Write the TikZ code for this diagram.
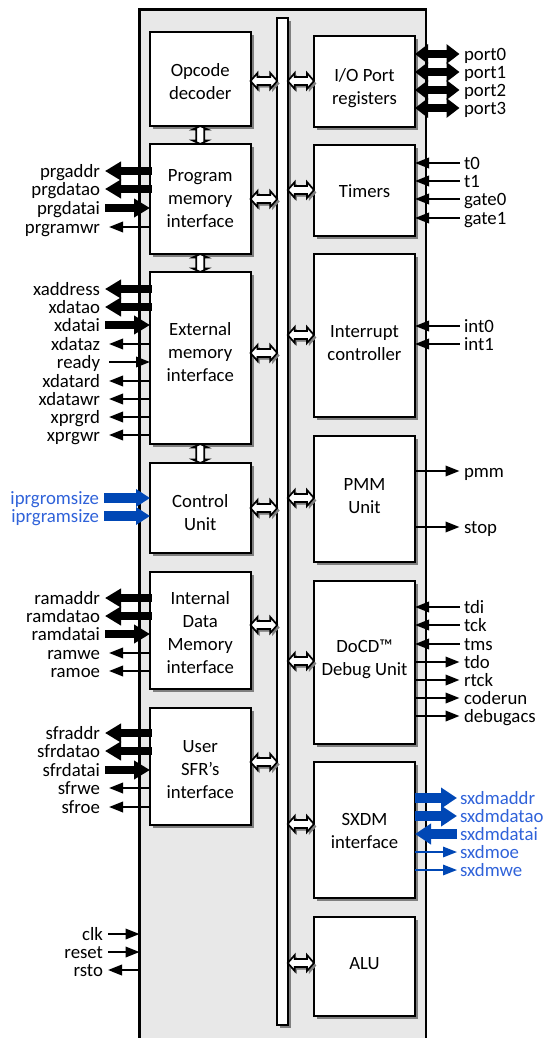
\documentclass[tikz,border=0pt]{standalone}
\usepackage{fontspec}
\setmainfont{Carlito}
\usetikzlibrary{arrows.meta,calc,shadows,positioning}
\definecolor{panelgray}{HTML}{E8E8E8}
\definecolor{shgray}{HTML}{7F7F7F}
\definecolor{bluear}{HTML}{0047B5}
\definecolor{bluetx}{HTML}{2F62D9}
\tikzset{
  shad/.style={general shadow={shadow xshift=3pt,shadow yshift=-3pt,fill=shgray,draw=none}},
  blk/.style={draw=black,line width=2pt,fill=white,inner sep=0pt,outer sep=0pt,shad},
  blktext/.style={inner sep=0pt,outer sep=0pt,align=center,font=\fontsize{18.7}{23}\selectfont},
  lblL/.style={anchor=east,inner xsep=5pt,inner ysep=0pt,outer sep=0pt,text height=16.5pt,text depth=4pt,font=\fontsize{18.8}{18}\selectfont},
  lblR/.style={anchor=west,inner xsep=4.5pt,inner ysep=0pt,outer sep=0pt,text height=16.5pt,text depth=4pt,font=\fontsize{18.8}{18}\selectfont},
  wide/.style={line width=8pt,-{Triangle[length=16pt,width=18pt]}},
  wideblue/.style={bluear,line width=10pt,-{Triangle[length=16pt,width=20pt]}},
  wided/.style={line width=8pt,{Triangle[length=13pt,width=19pt]}-{Triangle[length=13pt,width=19pt]}},
  thin arrow/.style={line width=2pt,-{Triangle[length=14pt,width=10.5pt]}},
  busar/.style={draw=black,line width=1.7pt,fill=white,line join=miter,
    general shadow={shadow xshift=2pt,shadow yshift=-2.5pt,fill=shgray,draw=shgray}},
  vbusar/.style={draw=black,line width=1.7pt,fill=white,line join=miter},
}
% #1 name, #2-#5 corners, #6 text offset, #7 text
\newcommand{\blkbox}[7]{%
  \pgfmathsetmacro{\cx}{(#2+#4)/2}\pgfmathsetmacro{\cy}{(#3+#5)/2}%
  \pgfmathsetmacro{\ww}{#4-#2}\pgfmathsetmacro{\hh}{#5-#3}%
  \pgfmathsetmacro{\ty}{\cy+#6}%
  \node[blk,minimum width=\ww pt,minimum height=\hh pt] (#1) at (\cx,\cy) {};
  \node[blktext] (#1text) at (\cx,\ty) {#7};}
\newcommand{\hbus}[3]{%
  \draw[busar] let \p1=(#1.east |- 0,#3), \p2=(#2.west |- 0,#3) in
    (\x1,\y1) -- (\x1+7pt,\y1+8pt) -- (\x1+7pt,\y1+4pt) -- (\x2-7pt,\y1+4pt) -- (\x2-7pt,\y1+8pt)
    -- (\x2,\y1) -- (\x2-7pt,\y1-8pt) -- (\x2-7pt,\y1-4pt) -- (\x1+7pt,\y1-4pt) -- (\x1+7pt,\y1-8pt) -- cycle;}
\newcommand{\vbus}[2]{%
  \draw[vbusar] let \p1=(#1.south), \p2=(#2.north) in
    (\x1,\y1) -- (\x1+7.5pt,\y1-3.5pt) -- (\x1+4pt,\y1-3.5pt) -- (\x1+4pt,\y2+3.5pt) -- (\x1+7.5pt,\y2+3.5pt)
    -- (\x1,\y2) -- (\x1-7.5pt,\y2+3.5pt) -- (\x1-4pt,\y2+3.5pt) -- (\x1-4pt,\y1-3.5pt) -- (\x1-7.5pt,\y1-3.5pt) -- cycle;}
\newcommand{\sigL}[2]{%
  \foreach \n/\yy/\k in {#2}{%
    \node[lblL] (s\n) at (105,\yy) {\n};
    \ifnum\k=0 \draw[wide,shorten <=-1.5pt] (#1.west |- s\n) -- (s\n.east);\fi
    \ifnum\k=1 \draw[wide] (s\n.east) -- (#1.west |- s\n);\fi
    \ifnum\k=2 \draw[thin arrow,shorten >=4pt] (#1.west |- s\n) -- (s\n.east);\fi
    \ifnum\k=3 \draw[thin arrow,shorten <=4pt] (s\n.east) -- (#1.west |- s\n);\fi
  }}
\newcommand{\sigR}[2]{%
  \foreach \n/\yy/\k in {#2}{%
    \node[lblR] (s\n) at (459.5,\yy) {\n};
    \ifnum\k=0 \draw[thin arrow] (#1.east |- s\n) -- (s\n.west);\fi
    \ifnum\k=1 \draw[thin arrow] (s\n.west) -- (#1.east |- s\n);\fi
  }}
\begin{document}
\begin{tikzpicture}[x=1pt,y=-1pt]
\useasboundingbox (0,0) rectangle (542,1038);
\clip (0,0) rectangle (542,1038);
\draw[line width=2.2pt,fill=panelgray] (139.5,9.5) rectangle (426,1050);
\node[blk,minimum width=10.5pt,minimum height=1007pt] (bus) at (282.5,521.5) {};
\blkbox{opcode}{150}{32.5}{250.5}{126}{2.5}{Opcode\\decoder}
\blkbox{prog}{150}{144}{250.5}{254}{-0.5}{Program\\memory\\interface}
\blkbox{ext}{150}{272}{250.5}{444}{-6}{External\\memory\\interface}
\blkbox{ctrl}{150}{463}{250.5}{553}{4.5}{Control\\Unit}
\blkbox{idata}{150}{571.5}{250.5}{689}{2.5}{Internal\\Data\\Memory\\interface}
\blkbox{sfr}{150}{708}{250.5}{825}{3.5}{User\\SFR’s\\interface}
\blkbox{io}{314}{36.5}{415}{127}{6.5}{I/O Port\\registers}
\blkbox{timers}{314}{145}{415}{235.5}{0.5}{Timers}
\blkbox{irq}{314}{254}{415}{417}{7.5}{Interrupt\\controller}
\blkbox{pmm}{314}{435.5}{415}{562}{-3}{PMM\\Unit}
\blkbox{docd}{314}{580.5}{415}{744}{-2.5}{DoCD™\\Debug Unit}
\blkbox{sxdm}{314}{762}{415}{898}{0.5}{SXDM\\interface}
\blkbox{alu}{314}{916.5}{415}{1016}{-2.5}{ALU}
\hbus{opcode}{bus}{81}
\hbus{prog}{bus}{199}
\hbus{ext}{bus}{353}
\hbus{ctrl}{bus}{508}
\hbus{idata}{bus}{625}
\hbus{sfr}{bus}{762}
\hbus{bus}{io}{81}
\hbus{bus}{timers}{190}
\hbus{bus}{irq}{335}
\hbus{bus}{pmm}{498}
\hbus{bus}{docd}{661}
\hbus{bus}{sxdm}{824}
\hbus{bus}{alu}{963}
\vbus{opcode}{prog}
\vbus{prog}{ext}
\vbus{ext}{ctrl}
\sigL{prog}{prgaddr/171/0,prgdatao/189/0,prgdatai/208/1,prgramwr/227/2}
\sigL{ext}{xaddress/289/0,xdatao/307/0,xdatai/325/1,xdataz/344/2,ready/362/3,xdatard/381/2,xdatawr/399/2,xprgrd/417/2,xprgwr/435/2}
\sigL{idata}{ramaddr/598/0,ramdatao/616/0,ramdatai/634/1,ramwe/653/2,ramoe/671/2}
\sigL{sfr}{sfraddr/733/0,sfrdatao/751/0,sfrdatai/770/1,sfrwe/788/2,sfroe/807/2}
\begin{scope}[every node/.append style={text=bluetx}]
\node[lblL] (sromsize) at (104,498) {iprgromsize};
\node[lblL] (sramsize) at (104,516) {iprgramsize};
\end{scope}
\draw[wideblue,-{Triangle[length=14pt,width=17pt]}] (sromsize.east) -- (ctrl.west |- sromsize);
\draw[wideblue,-{Triangle[length=14pt,width=17pt]}] (sramsize.east) -- (ctrl.west |- sramsize);
\node[lblL] (sclk) at (108,934) {clk};
\node[lblL] (sreset) at (108,952) {reset};
\node[lblL] (srsto) at (108,970) {rsto};
\coordinate (edgeclk) at (139.5,934);
\coordinate (edgereset) at (139.5,952);
\coordinate (edgersto) at (139.5,970);
\draw[thin arrow] (sclk.east) -- (edgeclk);
\draw[thin arrow] (sreset.east) -- (edgereset);
\draw[thin arrow] (edgersto) -- (srsto.east);
\foreach \n/\yy in {port0/54,port1/72,port2/90,port3/108}{
  \node[lblR] (s\n) at (459.5,\yy) {\n};
  \draw[wided] (io.east |- s\n) -- (s\n.west);
}
\sigR{timers}{t0/163/1,t1/181/1,gate0/199/1,gate1/218/1}
\sigR{irq}{int0/326/1,int1/344/1}
\sigR{pmm}{pmm/471/0,stop/527/0}
\sigR{docd}{tdi/607/1,tck/625/1,tms/644/1,tdo/662/0,rtck/680/0,coderun/698/0,debugacs/716/0}
\begin{scope}[every node/.append style={text=bluetx}]
\node[lblR,inner xsep=3pt] (smaddr) at (457,798) {sxdmaddr};
\node[lblR,inner xsep=3pt] (smdatao) at (457,816) {sxdmdatao};
\node[lblR,inner xsep=3pt] (smdatai) at (457,834) {sxdmdatai};
\node[lblR,inner xsep=3pt] (smoe) at (457,852) {sxdmoe};
\node[lblR,inner xsep=3pt] (smwe) at (457,870) {sxdmwe};
\end{scope}
\draw[wideblue] (sxdm.east |- smaddr) -- (smaddr.west);
\draw[wideblue] (sxdm.east |- smdatao) -- (smdatao.west);
\draw[wideblue] (smdatai.west) -- (sxdm.east |- smdatai);
\draw[thin arrow,bluear,line width=1.6pt] (sxdm.east |- smoe) -- (smoe.west);
\draw[thin arrow,bluear,line width=1.6pt] (sxdm.east |- smwe) -- (smwe.west);
\end{tikzpicture}
\end{document}
